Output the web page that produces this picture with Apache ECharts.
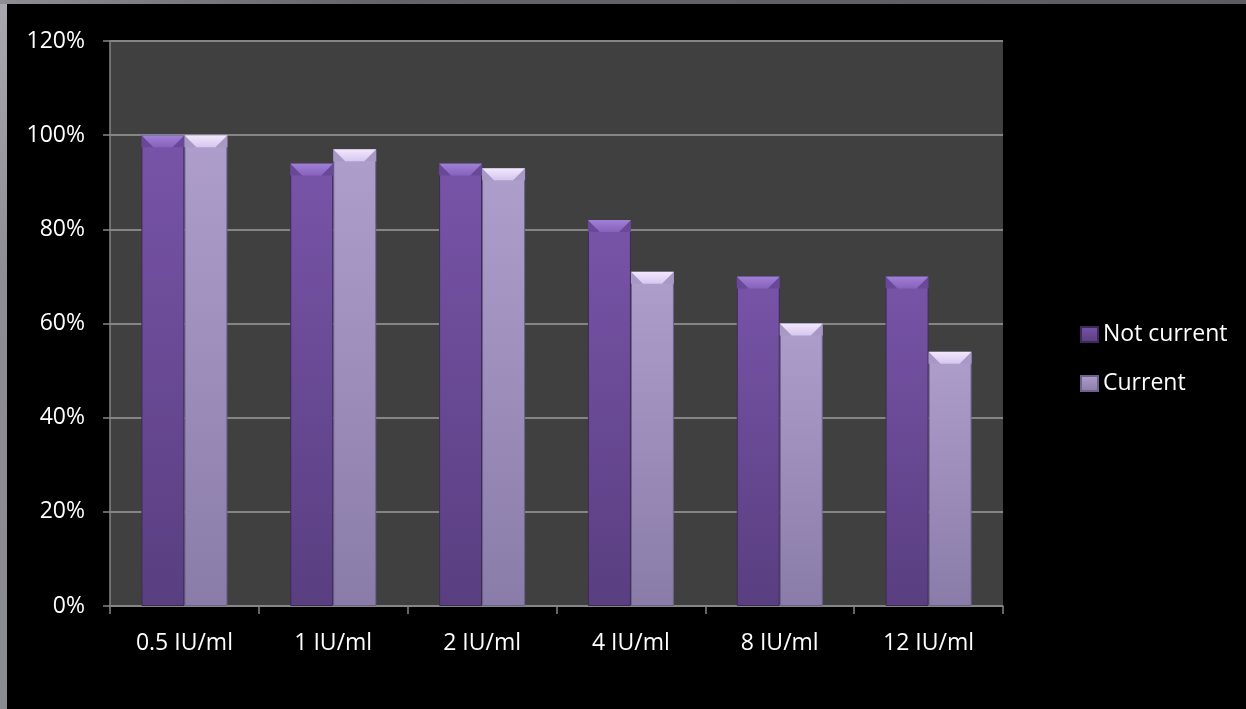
<!DOCTYPE html>
<html>
<head>
<meta charset="utf-8">
<title>Sensitivity by cut-off</title>
<script src="https://cdn.jsdelivr.net/npm/echarts@6/dist/echarts.min.js"></script>
<style>
  html, body { margin: 0; padding: 0; background: #000; }
  #frame {
    position: absolute; left: 0; top: 0; width: 1246px; height: 709px;
    background: #000;
  }
  #edgeLeft {
    position: absolute; left: 0; top: 0; width: 7px; height: 709px;
    background: linear-gradient(to bottom, #a9a8b0 0%, #8d8c94 40%, #8a8a92 100%);
  }
  #edgeTop {
    position: absolute; left: 0; top: 0; width: 1246px; height: 4px;
    background: linear-gradient(to right, #8e8d94 0%, #67636a 30%, #5f5b62 100%);
  }
  #chart { position: absolute; left: 0; top: 0; width: 1246px; height: 709px; }
</style>
</head>
<body>
<div id="frame">
  <div id="chart"></div>
  <div id="edgeLeft"></div>
  <div id="edgeTop"></div>
</div>
<script>
// Share (%) per cut-off concentration
const categories = ['0.5 IU/ml', '1 IU/ml', '2 IU/ml', '4 IU/ml', '8 IU/ml', '12 IU/ml'];
const notCurrent = [100, 94, 94, 82, 70, 70];
const current = [100, 97, 93, 71, 60, 54];
const seriesNames = ['Not current', 'Current'];

const FONT = '"Open Sans", "Noto Sans", sans-serif';
const BAR_W = 43;

function vGrad(top, bottom) {
  return new echarts.graphic.LinearGradient(0, 0, 0, 1, [
    { offset: 0, color: top },
    { offset: 1, color: bottom }
  ]);
}

// bevelled cap drawn on top of each bar, positioned through the axis scales
function capRenderer(side, faceTop, faceBottom, sideColor) {
  return function (params, api) {
    const idx = api.value(0);
    const v = api.value(1);
    const p = api.coord([idx, v]);
    const x0 = side < 0 ? p[0] - BAR_W : p[0];
    const x1 = x0 + BAR_W;
    const y0 = p[1];
    const h = 12, inset = 12;
    return {
      type: 'group',
      children: [
        {
          type: 'polygon',
          shape: { points: [[x0, y0], [x0 + inset, y0 + h], [x0, y0 + h]] },
          style: { fill: sideColor }
        },
        {
          type: 'polygon',
          shape: { points: [[x1, y0], [x1, y0 + h], [x1 - inset, y0 + h]] },
          style: { fill: sideColor }
        },
        {
          type: 'polygon',
          shape: { points: [[x0, y0], [x1, y0], [x1 - inset, y0 + h], [x0 + inset, y0 + h]] },
          style: { fill: vGrad(faceTop, faceBottom) }
        }
      ]
    };
  };
}

const chart = echarts.init(document.getElementById('chart'), null, { renderer: 'canvas' });

const axisGray = '#868686';

chart.setOption({
  backgroundColor: 'transparent',
  animation: false,
  textStyle: { fontFamily: FONT },
  grid: {
    left: 110, right: 243, top: 41, bottom: 103,
    show: true, backgroundColor: '#404040', borderWidth: 0,
    containLabel: false
  },
  legend: {
    data: seriesNames,
    orient: 'vertical',
    left: 1080, top: 323,
    padding: 0,
    itemWidth: 17, itemHeight: 15,
    itemGap: 26,
    icon: 'rect',
    textStyle: { color: '#ffffff', fontSize: 23, fontFamily: FONT },
    selectedMode: false
  },
  xAxis: {
    type: 'category',
    data: categories,
    axisLine: { show: true, lineStyle: { color: axisGray, width: 1.5 } },
    axisTick: { show: true, length: 8, lineStyle: { color: axisGray, width: 1.5 } },
    axisLabel: { color: '#ffffff', fontSize: 23, fontFamily: FONT, margin: 26 },
    splitLine: { show: false }
  },
  yAxis: {
    type: 'value',
    min: 0, max: 120, interval: 20,
    axisLine: { show: true, lineStyle: { color: axisGray, width: 1.5 } },
    axisTick: { show: true, length: 7, lineStyle: { color: axisGray, width: 1.5 } },
    axisLabel: { color: '#ffffff', fontSize: 23, fontFamily: FONT, margin: 25, formatter: '{value}%' },
    splitLine: { show: true, lineStyle: { color: '#858585', width: 2 } }
  },
  series: [
    {
      name: seriesNames[0],
      type: 'bar',
      data: notCurrent,
      barWidth: BAR_W,
      barGap: '0%',
      itemStyle: {
        color: vGrad('#7854a8', '#593e80'),
        borderColor: '#3d2a58', borderWidth: 1
      },
      z: 2
    },
    {
      name: seriesNames[1],
      type: 'bar',
      data: current,
      barWidth: BAR_W,
      barGap: '0%',
      itemStyle: {
        color: vGrad('#ae9ecc', '#8a7ca8'),
        borderColor: '#6e6288', borderWidth: 1
      },
      z: 2
    },
    {
      name: 'capNotCurrent',
      type: 'custom',
      renderItem: capRenderer(-1, '#a080d6', '#8762bc', '#6a4898'),
      data: notCurrent.map((v, i) => [i, v]),
      encode: { x: 0, y: 1 },
      silent: true,
      z: 3
    },
    {
      name: 'capCurrent',
      type: 'custom',
      renderItem: capRenderer(1, '#f2e8ff', '#d6c6ee', '#a898c4'),
      data: current.map((v, i) => [i, v]),
      encode: { x: 0, y: 1 },
      silent: true,
      z: 3
    }
  ]
});
</script>
</body>
</html>
